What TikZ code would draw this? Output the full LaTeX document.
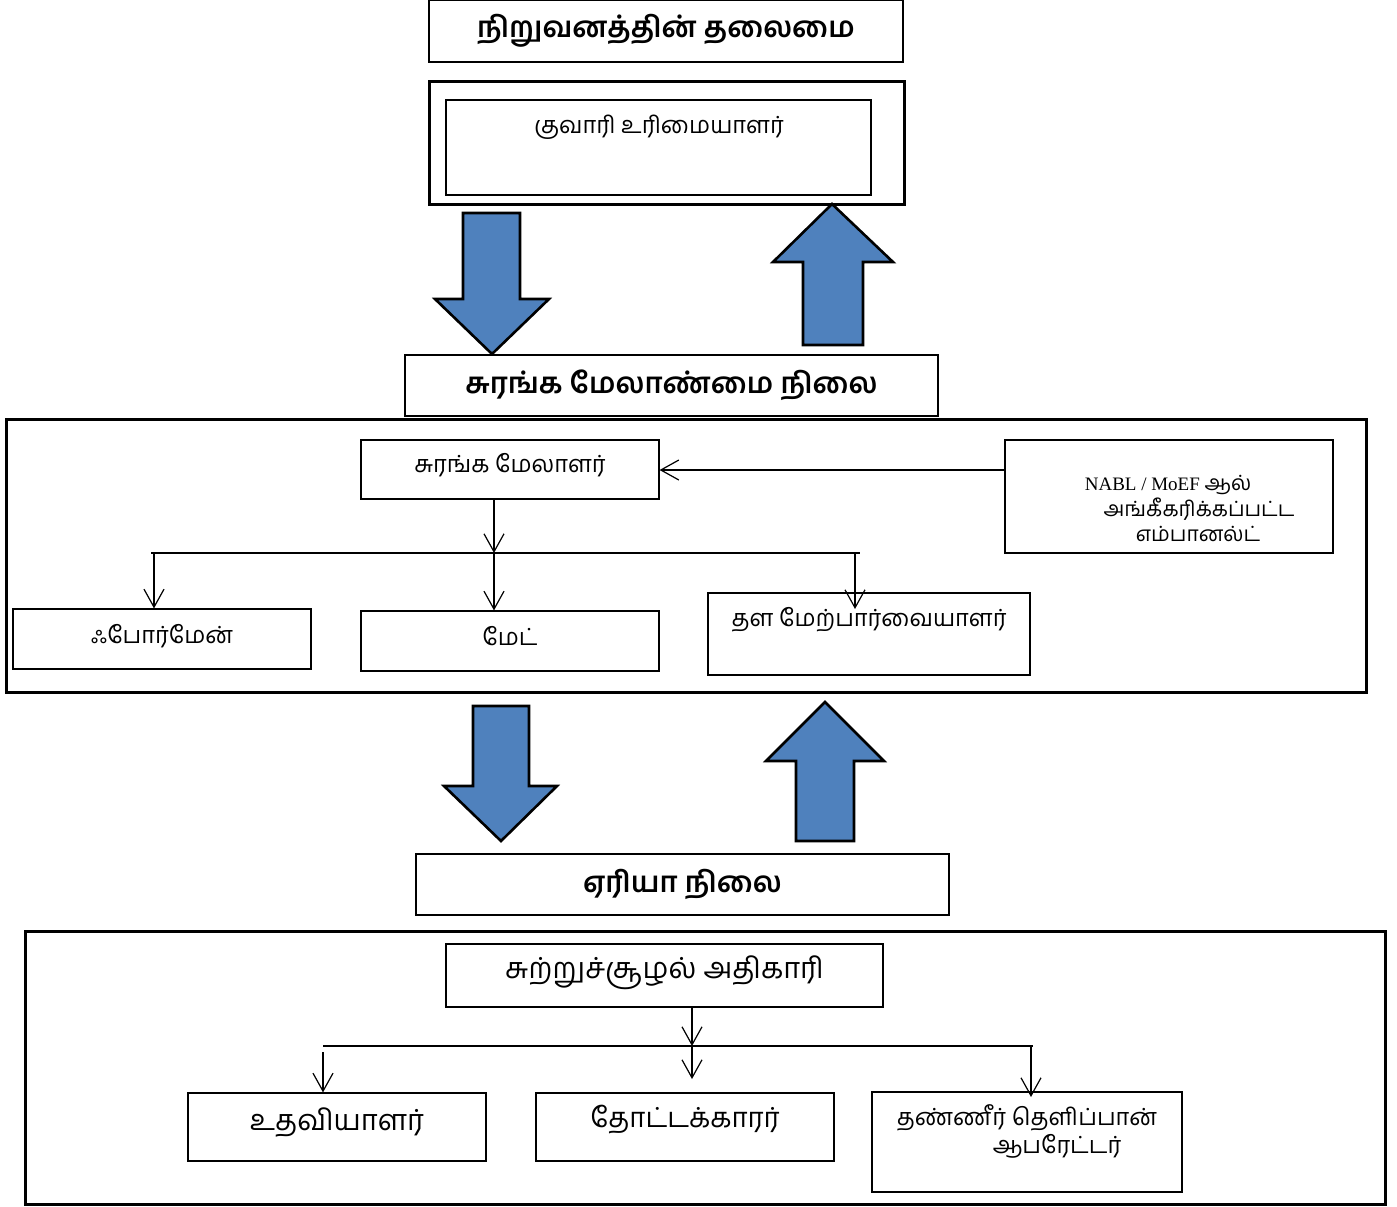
\documentclass[tikz,border=0pt]{standalone}
\usepackage{fontspec}
\usetikzlibrary{arrows.meta}
\setmainfont{Liberation Serif}
\newfontfamily\ta[Script=Tamil]{Hind Madurai}
\definecolor{arrowblue}{HTML}{4F81BD}
\begin{document}
\begin{tikzpicture}[x=0.5pt,y=-0.5pt,
  box/.style={draw, line width=0.6pt, inner sep=0pt, font=\ta\fontsize{11.8}{14}\selectfont},
  titlebox/.style={box, font=\ta\bfseries\fontsize{14.5}{17}\selectfont},
  frame/.style={draw, line width=1.5pt, inner sep=0pt},
  blockarrow/.style={draw, line width=1.3pt, fill=arrowblue, line join=miter},
  conn/.style={line width=0.6pt, -{Straight Barb[length=9pt,width=10pt]}},
  bar/.style={line width=0.6pt},
  txt/.style={inner sep=0pt, font=\ta\fontsize{11.8}{14}\selectfont},
  smalltxt/.style={inner sep=0pt, font=\ta\fontsize{10.5}{12}\selectfont},
  bigtxt/.style={inner sep=0pt, font=\ta\fontsize{14.5}{17}\selectfont}
]
\useasboundingbox (0,0) rectangle (1397,1206);

% ---------- top level ----------
\node[titlebox, minimum width=237pt, minimum height=31pt] (head) at (666,31) {நிறுவனத்தின் தலைமை};
\node[frame, minimum width=237.5pt, minimum height=61.5pt] (ownerframe) at (666.5,142.5) {};
\node[box, minimum width=212.5pt, minimum height=47.5pt] (owner) at (658.5,147.5) {};
\node[txt] (ownert) at (659,127) {குவாரி உரிமையாளர்};

% block arrows 1
\draw[blockarrow] (463,213) -- (520,213) -- (520,299) -- (549,299) -- (492,354) -- (435,299) -- (463,299) -- cycle;
\draw[blockarrow] (832,204) -- (893,262) -- (863,262) -- (863,345) -- (803,345) -- (803,262) -- (773,262) -- cycle;

% ---------- mine management level ----------
\node[titlebox, minimum width=266.5pt, minimum height=30.5pt] (mml) at (671.5,385.5) {சுரங்க மேலாண்மை நிலை};
\node[frame, minimum width=680pt, minimum height=136.5pt] (cont1) at (686,555.5) {};

\node[box, minimum width=149pt, minimum height=29.5pt] (mgr) at (510,469.5) {};
\node[txt] (mgrt) at (510,465) {சுரங்க மேலாளர்};

\node[box, minimum width=164pt, minimum height=56.5pt] (nabl) at (1169,496.5) {};
\node[inner sep=0pt, font=\fontsize{9.5}{11}\selectfont] (nablt1) at (1168,485) {NABL / MoEF {\ta\fontsize{10.5}{12}\selectfont ஆல்}};
\node[smalltxt] (nablt2) at (1199,509) {அங்கீகரிக்கப்பட்ட};
\node[smalltxt] (nablt3) at (1198,534) {எம்பானல்ட்};

\node[box, minimum width=149pt, minimum height=30pt] (fore) at (162,639) {};
\node[txt] (foret) at (162,636) {ஃபோர்மேன்};
\node[box, minimum width=149pt, minimum height=30pt] (mate) at (510,641) {};
\node[txt] (matet) at (510,636) {மேட்};
\node[box, minimum width=161pt, minimum height=41pt] (sup) at (869,634) {};
\node[txt] (supt) at (869,620) {தள மேற்பார்வையாளர்};

\coordinate (n1) at (1005,470);
\draw[conn] (n1) -- (n1 -| mgr.east);

\coordinate (b1L) at (151,553);
\coordinate (b1R) at (860,553);
\coordinate (j1) at (494,553);
\coordinate (c1) at (154,553);
\coordinate (c3) at (855,553);
\coordinate (c3e) at (855,609);
\draw[bar] (b1L) -- (b1R);
\draw[conn] (j1 |- mgr.south) -- (j1);
\draw[conn] (c1) -- (c1 |- fore.north);
\draw[conn] (j1) -- (j1 |- mate.north);
\draw[conn] (c3) -- (c3e);

% block arrows 2
\draw[blockarrow] (473,706) -- (529,706) -- (529,786) -- (557,786) -- (501,841) -- (444,786) -- (473,786) -- cycle;
\draw[blockarrow] (825,702) -- (884,761) -- (854,761) -- (854,841) -- (796,841) -- (796,761) -- (766,761) -- cycle;

% ---------- area level ----------
\node[titlebox, minimum width=266.5pt, minimum height=30.5pt] (area) at (682.5,884.5) {ஏரியா நிலை};
\node[frame, minimum width=680pt, minimum height=136.5pt] (cont2) at (705,1067.5) {};

\node[box, minimum width=218.5pt, minimum height=31.5pt] (env) at (664.5,975.5) {};
\node[bigtxt] (envt) at (664.5,973) {சுற்றுச்சூழல் அதிகாரி};

\node[box, minimum width=149pt, minimum height=34pt] (help) at (337,1127) {};
\node[bigtxt] (helpt) at (337,1122) {உதவியாளர்};
\node[box, minimum width=149pt, minimum height=34pt] (gard) at (685,1127) {};
\node[inner sep=0pt, font=\ta\fontsize{13.8}{16}\selectfont] (gardt) at (685,1120) {தோட்டக்காரர்};
\node[box, minimum width=155pt, minimum height=50pt] (spray) at (1027,1142) {};
\node[txt] (sprayt1) at (1027,1118) {தண்ணீர் தெளிப்பான்};
\node[txt] (sprayt2) at (1057,1146) {ஆபரேட்டர்};

\coordinate (b2L) at (323,1046);
\coordinate (b2R) at (1033,1046);
\coordinate (j2) at (692,1046);
\coordinate (j2e) at (692,1079);
\coordinate (d1) at (323,1052);
\coordinate (d3) at (1031,1046);
\coordinate (d3e) at (1031,1097);
\draw[bar] (b2L) -- (b2R);
\draw[conn] (j2 |- env.south) -- (j2);
\draw[conn] (j2) -- (j2e);
\draw[conn] (d1) -- (d1 |- help.north);
\draw[conn] (d3) -- (d3e);
\end{tikzpicture}
\end{document}
